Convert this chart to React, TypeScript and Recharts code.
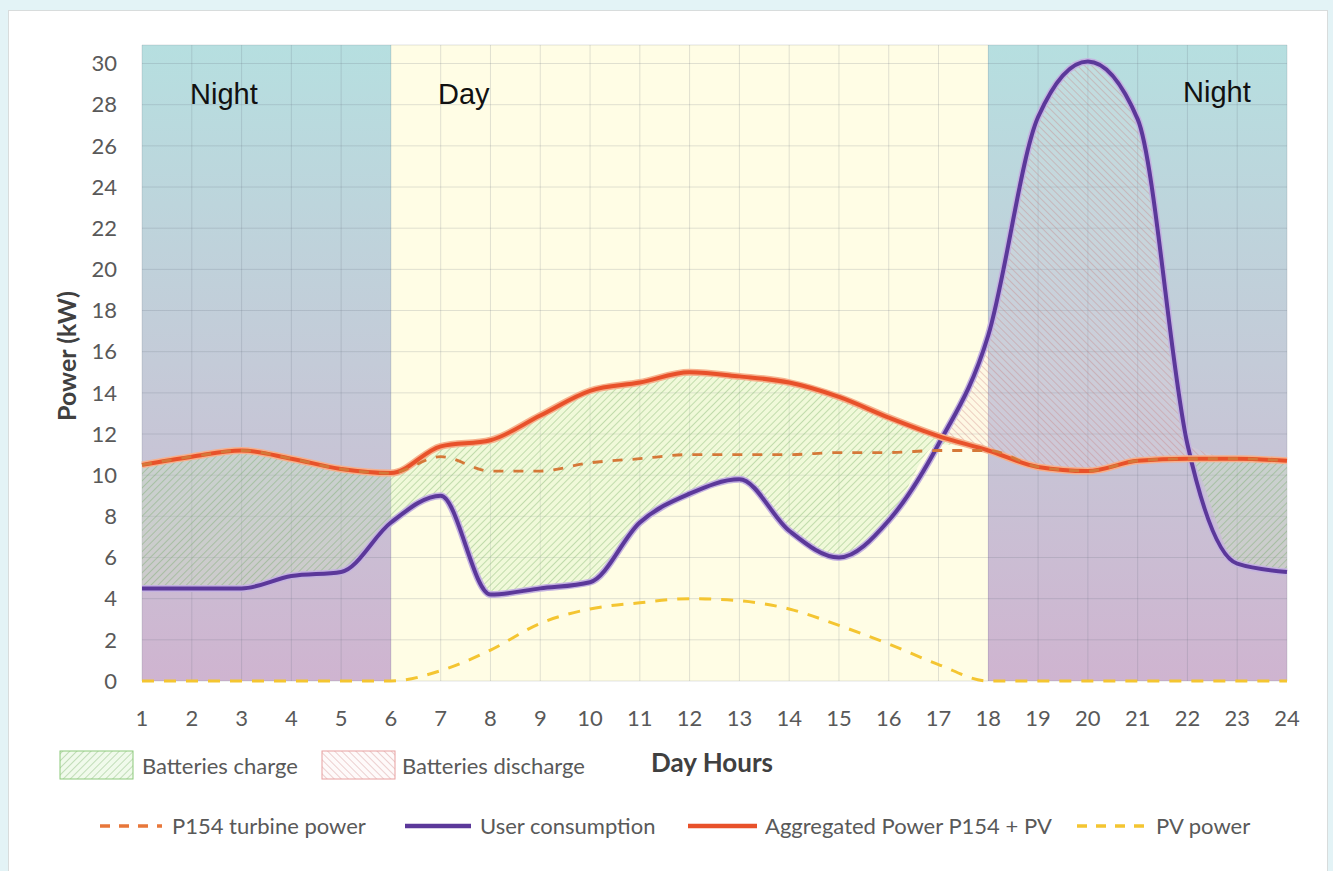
import { ComposedChart, Line, Area, XAxis, YAxis, CartesianGrid } from "recharts";

const hours = [1, 2, 3, 4, 5, 6, 7, 8, 9, 10, 11, 12, 13, 14, 15, 16, 17, 18, 19, 20, 21, 22, 23, 24];
const userConsumption = [4.5, 4.5, 4.5, 5.1, 5.3, 7.7, 9.0, 4.2, 4.5, 4.8, 7.7, 9.1, 9.8, 7.3, 6.0, 7.8, 11.5, 16.8, 27.4, 30.1, 27.3, 11.5, 5.7, 5.3];
const turbinePower = [10.5, 10.9, 11.2, 10.8, 10.3, 10.1, 10.9, 10.2, 10.2, 10.6, 10.8, 11.0, 11.0, 11.0, 11.1, 11.1, 11.2, 11.2, 10.4, 10.2, 10.7, 10.8, 10.8, 10.7];
const pvPower = [0, 0, 0, 0, 0, 0, 0.5, 1.5, 2.8, 3.5, 3.8, 4.0, 3.9, 3.5, 2.7, 1.8, 0.8, 0, 0, 0, 0, 0, 0, 0];
const aggregatedPower = [10.5, 10.9, 11.2, 10.8, 10.3, 10.1, 11.4, 11.7, 12.9, 14.1, 14.5, 15.0, 14.8, 14.5, 13.8, 12.8, 11.9, 11.2, 10.4, 10.2, 10.7, 10.8, 10.8, 10.7];
const yTicks = [0, 2, 4, 6, 8, 10, 12, 14, 16, 18, 20, 22, 24, 26, 28, 30];
// hour slots 1-6 and 18-24 are night, 6-18 is day
const isNight = (h: number) => h < 6 || h >= 18;

const data = hours.map((hour, i) => {
  const user = userConsumption[i];
  const agg = aggregatedPower[i];
  return {
    hour,
    user,
    agg,
    turbine: turbinePower[i],
    pv: pvPower[i],
    charge: [Math.min(user, agg), agg],
    discharge: [agg, Math.max(user, agg)],
  };
});

const bandFills = hours.map((h) => (isNight(h) ? "url(#nightGrad)" : "#fffde5"));

const tickStyle = { fontFamily: "Lato", fontSize: 22, fill: "#595959" };
const legendText = { fontFamily: "Lato", fontSize: 22, fill: "#595959" };

export default function App() {
  return (
    <div style={{ position: "absolute", left: 0, top: 0, width: 1333, height: 871, background: "#e3f3f6", overflow: "hidden" }}>
      <div style={{ position: "absolute", left: 8, top: 10, width: 1320, height: 870, background: "#fff", border: "1px solid #d8dcdc", boxSizing: "border-box" }} />
      <svg width={0} height={0} style={{ position: "absolute" }}>
        <defs>
          <linearGradient id="nightGrad" x1="0" y1="0" x2="0" y2="1">
            <stop offset="0%" stopColor="#b6dfe0" />
            <stop offset="50%" stopColor="#c4cbd8" />
            <stop offset="100%" stopColor="#cfb4d0" />
          </linearGradient>
          <pattern id="chargeHatch" patternUnits="userSpaceOnUse" width={5} height={5} patternTransform="rotate(45)">
            <rect width={5} height={5} fill="rgba(205,238,190,0.3)" />
            <line x1={0} y1={0} x2={0} y2={5} stroke="rgba(95,160,80,0.5)" strokeWidth={1.3} />
          </pattern>
          <pattern id="dischargeHatch" patternUnits="userSpaceOnUse" width={5} height={5} patternTransform="rotate(-45)">
            <rect width={5} height={5} fill="rgba(250,220,220,0.15)" />
            <line x1={0} y1={0} x2={0} y2={5} stroke="rgba(200,120,120,0.5)" strokeWidth={1.3} />
          </pattern>
        </defs>
      </svg>
      <div style={{ position: "absolute", left: 0, top: 0 }}>
        <ComposedChart width={1333} height={871} data={data} margin={{ top: 45, right: 46, bottom: 150, left: 0 }}>
          <CartesianGrid stroke="rgba(100,110,125,0.2)" verticalFill={bandFills} fillOpacity={1} />
          <XAxis
            type="number"
            dataKey="hour"
            domain={[1, 24]}
            ticks={hours}
            interval={0}
            axisLine={false}
            tickLine={false}
            tickSize={0}
            tickMargin={29}
            height={40}
            tick={tickStyle}
          />
          <YAxis
            domain={[0, 30.9]}
            ticks={yTicks}
            interval={0}
            axisLine={false}
            tickLine={false}
            tickSize={0}
            tickMargin={25}
            width={142}
            tick={tickStyle}
          />
          <Area type="monotone" dataKey="charge" fill="url(#chargeHatch)" fillOpacity={1} stroke="none" isAnimationActive={false} />
          <Area type="monotone" dataKey="discharge" fill="url(#dischargeHatch)" fillOpacity={1} stroke="none" isAnimationActive={false} />
          <Line type="monotone" dataKey="pv" stroke="#f4c531" strokeWidth={3} strokeDasharray="12 10" dot={false} isAnimationActive={false} />
          <Line type="monotone" dataKey="user" stroke="#c4b2e0" strokeWidth={7} dot={false} isAnimationActive={false} />
          <Line type="monotone" dataKey="user" stroke="#5b389a" strokeWidth={4} dot={false} isAnimationActive={false} />
          <Line type="monotone" dataKey="agg" stroke="#f6b08c" strokeWidth={7} dot={false} isAnimationActive={false} />
          <Line type="monotone" dataKey="agg" stroke="#e8512a" strokeWidth={4} dot={false} isAnimationActive={false} />
          <Line type="monotone" dataKey="turbine" stroke="#d57838" strokeWidth={2.8} strokeDasharray="10 10" dot={false} isAnimationActive={false} />
        </ComposedChart>
      </div>
      <svg width={1333} height={871} style={{ position: "absolute", left: 0, top: 0, pointerEvents: "none" }}>
        <text x={190} y={104} fontFamily="Liberation Sans" fontSize={29} fill="#111">Night</text>
        <text x={438} y={104} fontFamily="Liberation Sans" fontSize={29} fill="#111">Day</text>
        <text x={1183} y={102} fontFamily="Liberation Sans" fontSize={29} fill="#111">Night</text>

        <text x={66} y={356} transform="rotate(-90 66 356)" textAnchor="middle" dominantBaseline="central" fontFamily="Lato" fontWeight="bold" fontSize={25} fill="#404040">
          Power (kW)
        </text>

        <rect x={60} y={751} width={73} height={28} fill="url(#chargeHatch)" stroke="#8cc97a" strokeWidth={1} />
        <text x={142} y={774} {...legendText}>Batteries charge</text>
        <rect x={322} y={751} width={73} height={28} fill="url(#dischargeHatch)" stroke="#e8a0a0" strokeWidth={1} />
        <text x={402} y={774} {...legendText}>Batteries discharge</text>
        <text x={651} y={772} fontFamily="Lato" fontWeight="bold" fontSize={26} fill="#404040">Day Hours</text>

        <line x1={100} y1={826} x2={162} y2={826} stroke="#e8773a" strokeWidth={3.5} strokeDasharray="10 9" />
        <text x={172} y={834} {...legendText}>P154 turbine power</text>
        <line x1={405} y1={826} x2={471} y2={826} stroke="#5b389a" strokeWidth={4.5} />
        <text x={480} y={834} {...legendText}>User consumption</text>
        <line x1={688} y1={826} x2={757} y2={826} stroke="#e8512a" strokeWidth={4.5} />
        <text x={765} y={834} {...legendText}>Aggregated Power P154 + PV</text>
        <line x1={1077} y1={826} x2={1148} y2={826} stroke="#f4c531" strokeWidth={3.5} strokeDasharray="10 9" />
        <text x={1156} y={834} {...legendText}>PV power</text>
      </svg>
    </div>
  );
}
